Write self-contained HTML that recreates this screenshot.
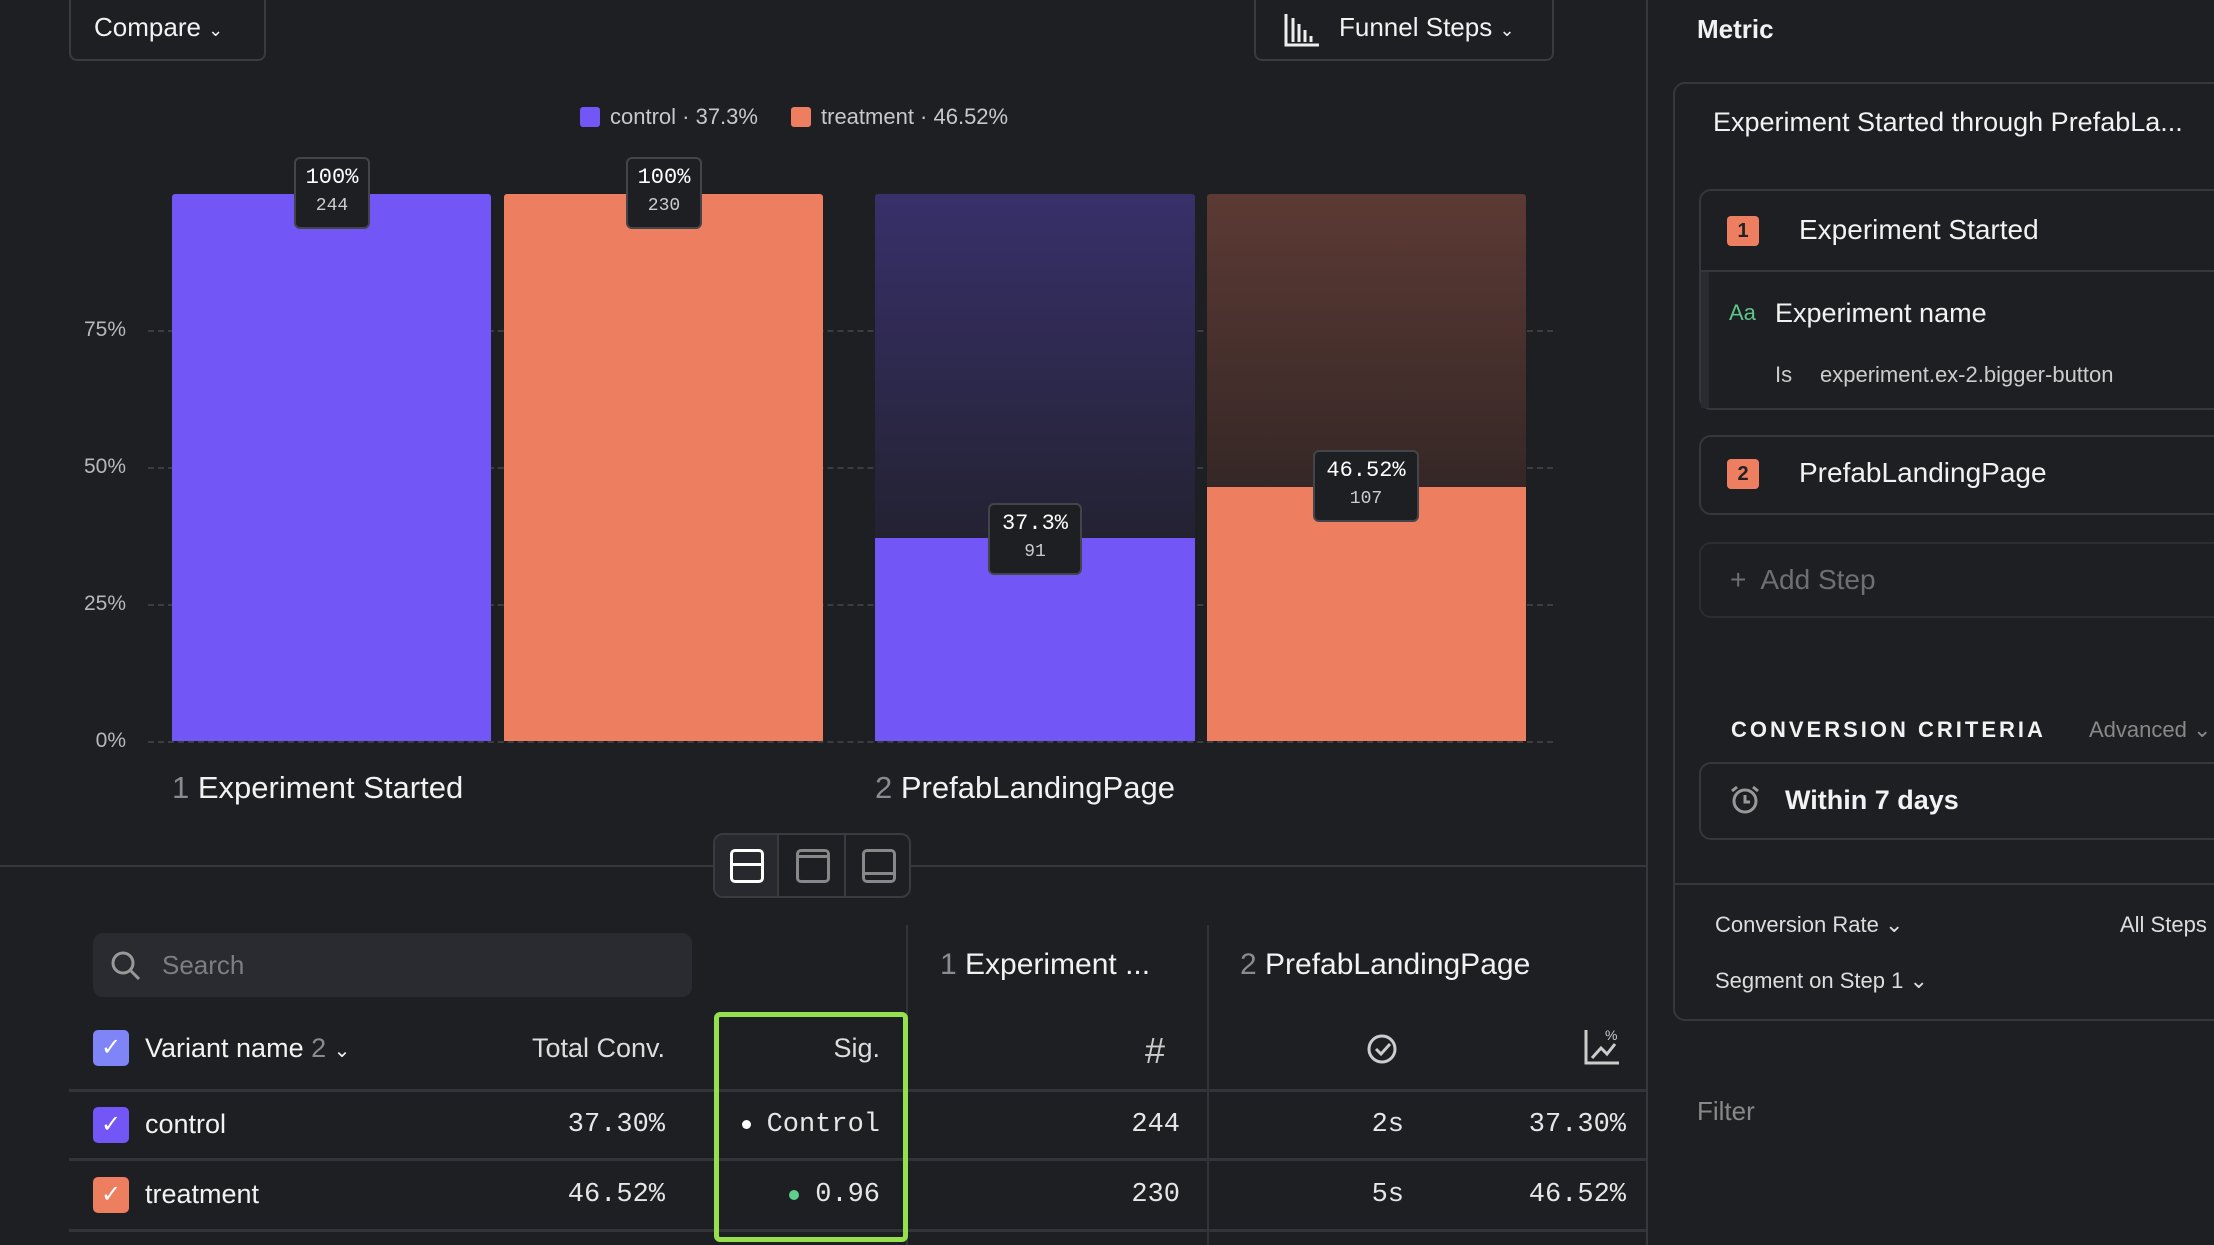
<!DOCTYPE html>
<html><head><meta charset="utf-8"><style>
*{box-sizing:border-box;margin:0;padding:0}
body{width:2214px;height:1245px;background:#1e1f23;overflow:hidden;position:relative;font-family:"Liberation Sans",sans-serif;color:#f2f2f2}
.a{position:absolute}
.mono{font-family:"Liberation Mono",monospace}
.btn{border:2px solid #3a3b40;border-radius:8px}
.grid{position:absolute;left:148px;width:1405px;border-top:2px dashed #3c3d42}
.yl{position:absolute;width:60px;left:66px;text-align:right;font-size:21px;color:#b8b8bc}
.tip{position:absolute;background:#1e1f23;border:2px solid #44454a;border-radius:6px;text-align:center;font-family:"Liberation Mono",monospace;color:#fff}
.tip b{display:block;font-weight:normal;font-size:22px;margin-top:6px}
.tip i{display:block;font-style:normal;font-size:18px;color:#ccc;margin-top:6px}
.cb{position:absolute;width:36px;height:36px;border-radius:5px;color:#fff;font-size:24px;text-align:center;line-height:36px}
.td{position:absolute;font-size:27px;font-family:"Liberation Mono",monospace;color:#e6e6e6}
.hl{position:absolute;left:69px;width:1577px;height:3px;background:#333439}
.card{position:absolute;border:2px solid #36373c;border-radius:12px}
</style></head><body>
<!-- top buttons -->
<div class="a btn" style="left:69px;top:-8px;width:197px;height:69px"></div>
<div class="a" style="left:94px;top:12px;font-size:26px">Compare <span style="font-size:18px">⌄</span></div>
<div class="a btn" style="left:1254px;top:-8px;width:300px;height:69px"></div>
<svg class="a" style="left:1283px;top:12px" width="38" height="36"><g stroke="#eee" stroke-width="3" fill="none"><path d="M3 2V33H36"/><path d="M10 6V30M16 12V30M22 18V30M28 24V30"/></g></svg>
<div class="a" style="left:1339px;top:12px;font-size:26px">Funnel Steps <span style="font-size:18px">⌄</span></div>
<!-- legend -->
<div class="a" style="left:580px;top:107px;width:20px;height:20px;background:#7357f6;border-radius:3px"></div>
<div class="a" style="left:610px;top:104px;font-size:22px;color:#c8c8cc">control · 37.3%</div>
<div class="a" style="left:791px;top:107px;width:20px;height:20px;background:#ee7e60;border-radius:3px"></div>
<div class="a" style="left:821px;top:104px;font-size:22px;color:#c8c8cc">treatment · 46.52%</div>
<!-- grid -->
<div class="grid" style="top:330px"></div><div class="grid" style="top:467px"></div><div class="grid" style="top:604px"></div><div class="grid" style="top:741px"></div>
<div class="yl" style="top:318px">75%</div><div class="yl" style="top:455px">50%</div><div class="yl" style="top:592px">25%</div><div class="yl" style="top:729px">0%</div>
<!-- bars -->
<div class="a" style="left:172px;top:194px;width:319px;height:547px;background:#7357f6;border-radius:3px 3px 0 0"></div>
<div class="a" style="left:504px;top:194px;width:319px;height:547px;background:#ee7e60;border-radius:3px 3px 0 0"></div>
<div class="a" style="left:875px;top:194px;width:320px;height:547px;background:linear-gradient(#38306a,#1f1f27 75%);border-radius:3px 3px 0 0"></div>
<div class="a" style="left:875px;top:538px;width:320px;height:203px;background:#7357f6"></div>
<div class="a" style="left:1207px;top:194px;width:319px;height:547px;background:linear-gradient(#5c3a34,#221e1f 80%);border-radius:3px 3px 0 0"></div>
<div class="a" style="left:1207px;top:487px;width:319px;height:254px;background:#ee7e60"></div>
<div class="tip" style="left:294px;top:157px;width:76px;height:72px"><b>100%</b><i>244</i></div>
<div class="tip" style="left:626px;top:157px;width:76px;height:72px"><b>100%</b><i>230</i></div>
<div class="tip" style="left:988px;top:503px;width:94px;height:72px"><b>37.3%</b><i>91</i></div>
<div class="tip" style="left:1313px;top:450px;width:106px;height:72px"><b>46.52%</b><i>107</i></div>
<div class="a" style="left:172px;top:770px;font-size:31px"><span style="color:#8a8a90">1</span> Experiment Started</div>
<div class="a" style="left:875px;top:770px;font-size:31px"><span style="color:#8a8a90">2</span> PrefabLandingPage</div>
<!-- divider -->
<div class="a" style="left:0;top:865px;width:1646px;height:2px;background:#36373c"></div>
<div class="a" style="left:1646px;top:0;width:2px;height:1245px;background:#36373c"></div>
<div class="a" style="left:713px;top:833px;width:198px;height:65px;background:#1e1f23;border:2px solid #3a3b40;border-radius:10px;overflow:hidden">
 <div class="a" style="left:0;top:0;width:64px;height:61px;background:#28292e;border-right:2px solid #3a3b40"></div>
 <div class="a" style="left:129px;top:0;width:2px;height:61px;background:#3a3b40"></div>
 <div class="a" style="left:15px;top:14px;width:34px;height:34px;border:3px solid #fff;border-radius:5px"><div style="margin-top:11px;border-top:3px solid #fff"></div></div>
 <div class="a" style="left:81px;top:14px;width:34px;height:34px;border:3px solid #888;border-radius:5px"><div style="margin-top:3px;border-top:3px solid #888"></div></div>
 <div class="a" style="left:147px;top:14px;width:34px;height:34px;border:3px solid #888;border-radius:5px"><div style="margin-top:20px;border-top:3px solid #888"></div></div>
</div>
<!-- table -->
<div class="a" style="left:93px;top:933px;width:599px;height:64px;background:#2a2b30;border-radius:10px"></div>
<svg class="a" style="left:110px;top:950px" width="32" height="32"><circle cx="13" cy="13" r="10" stroke="#999" stroke-width="3" fill="none"/><path d="M21 21L29 29" stroke="#999" stroke-width="3"/></svg>
<div class="a" style="left:162px;top:950px;font-size:26px;color:#7d7d82">Search</div>
<div class="a" style="left:906px;top:925px;width:2px;height:320px;background:#333439"></div>
<div class="a" style="left:1207px;top:925px;width:2px;height:320px;background:#333439"></div>
<div class="a" style="left:940px;top:948px;font-size:30px"><span style="color:#8a8a90">1</span> Experiment ...</div>
<div class="a" style="left:1240px;top:948px;font-size:30px"><span style="color:#8a8a90">2</span> PrefabLandingPage</div>
<div class="cb" style="left:93px;top:1030px;background:#7f84f6">✓</div>
<div class="a" style="left:145px;top:1033px;font-size:27px">Variant name <span style="color:#8a8a90">2</span> <span style="font-size:20px">⌄</span></div>
<div class="a" style="left:500px;top:1033px;width:165px;text-align:right;font-size:27px;color:#ddd">Total Conv.</div>
<div class="a" style="left:780px;top:1033px;width:100px;text-align:right;font-size:27px;color:#ddd">Sig.</div>
<div class="a" style="left:1145px;top:1030px;font-size:36px;color:#ccc">#</div>
<svg class="a" style="left:1365px;top:1030px" width="36" height="36"><circle cx="17" cy="19" r="13" stroke="#ccc" stroke-width="3" fill="none"/><path d="M11 19l5 5 9-10" stroke="#ccc" stroke-width="3" fill="none"/></svg>
<svg class="a" style="left:1583px;top:1028px" width="38" height="38"><path d="M3 2V35H36" stroke="#ccc" stroke-width="3" fill="none"/><path d="M9 30L18 20 24 26 32 16" stroke="#ccc" stroke-width="3" fill="none"/><text x="22" y="12" font-size="14" fill="#ccc" font-family="Liberation Sans">%</text></svg>
<div class="hl" style="top:1089px"></div><div class="hl" style="top:1158px"></div><div class="hl" style="top:1229px"></div>
<div class="cb" style="left:93px;top:1107px;background:#7357f6">✓</div>
<div class="a" style="left:145px;top:1109px;font-size:27px">control</div>
<div class="td" style="left:520px;top:1110px;width:145px;text-align:right">37.30%</div>
<div class="a" style="left:742px;top:1120px;width:9px;height:9px;border-radius:50%;background:#fff"></div>
<div class="td" style="left:760px;top:1110px;width:120px;text-align:right">Control</div>
<div class="td" style="left:1080px;top:1110px;width:100px;text-align:right">244</div>
<div class="td" style="left:1300px;top:1110px;width:104px;text-align:right">2s</div>
<div class="td" style="left:1500px;top:1110px;width:126px;text-align:right">37.30%</div>
<div class="cb" style="left:93px;top:1177px;background:#ee7e60">✓</div>
<div class="a" style="left:145px;top:1179px;font-size:27px">treatment</div>
<div class="td" style="left:520px;top:1180px;width:145px;text-align:right">46.52%</div>
<div class="a" style="left:789px;top:1190px;width:10px;height:10px;border-radius:50%;background:#5fd08a"></div>
<div class="td" style="left:780px;top:1180px;width:100px;text-align:right">0.96</div>
<div class="td" style="left:1080px;top:1180px;width:100px;text-align:right">230</div>
<div class="td" style="left:1300px;top:1180px;width:104px;text-align:right">5s</div>
<div class="td" style="left:1500px;top:1180px;width:126px;text-align:right">46.52%</div>
<div class="a" style="left:714px;top:1012px;width:194px;height:230px;border:5px solid #95e04f;border-radius:6px"></div>
<!-- right panel -->
<div class="a" style="left:1697px;top:14px;font-size:26px;font-weight:bold">Metric</div>
<div class="card" style="left:1673px;top:82px;width:600px;height:939px"></div>
<div class="a" style="left:1713px;top:107px;font-size:27px;white-space:nowrap">Experiment Started through PrefabLa...</div>
<div class="card" style="left:1699px;top:189px;width:600px;height:221px"></div>
<div class="a" style="left:1700px;top:270px;width:600px;height:2px;background:#36373c"></div>
<div class="a" style="left:1701px;top:272px;width:8px;height:136px;background:#2a2b30"></div>
<div class="a" style="left:1727px;top:216px;width:32px;height:30px;background:#ee7e60;border-radius:4px;text-align:center;font-size:20px;font-weight:bold;line-height:30px;color:#222">1</div>
<div class="a" style="left:1799px;top:214px;font-size:28px">Experiment Started</div>
<div class="a" style="left:1729px;top:300px;font-size:22px;color:#5fc48a">Aa</div>
<div class="a" style="left:1775px;top:298px;font-size:27px">Experiment name</div>
<div class="a" style="left:1775px;top:362px;font-size:22px;color:#ccc">Is</div>
<div class="a" style="left:1820px;top:362px;font-size:22px;color:#ccc">experiment.ex-2.bigger-button</div>
<div class="card" style="left:1699px;top:435px;width:600px;height:80px"></div>
<div class="a" style="left:1727px;top:459px;width:32px;height:30px;background:#ee7e60;border-radius:4px;text-align:center;font-size:20px;font-weight:bold;line-height:30px;color:#222">2</div>
<div class="a" style="left:1799px;top:457px;font-size:28px">PrefabLandingPage</div>
<div class="card" style="left:1699px;top:542px;width:600px;height:76px;border-color:#2c2d32"></div>
<div class="a" style="left:1730px;top:564px;font-size:28px;color:#6e6e73">+&nbsp; Add Step</div>
<div class="a" style="left:1731px;top:717px;font-size:22px;font-weight:bold;letter-spacing:3px">CONVERSION CRITERIA</div>
<div class="a" style="left:2089px;top:717px;font-size:22px;color:#888">Advanced ⌄</div>
<div class="card" style="left:1699px;top:762px;width:600px;height:78px"></div>
<svg class="a" style="left:1728px;top:783px" width="34" height="34"><circle cx="17" cy="18" r="11" stroke="#999" stroke-width="3" fill="none"/><path d="M17 12v7h5M4 8l5-4M30 8l-5-4" stroke="#999" stroke-width="3" fill="none"/></svg>
<div class="a" style="left:1785px;top:785px;font-size:27px;font-weight:bold">Within 7 days</div>
<div class="a" style="left:1674px;top:883px;width:560px;height:2px;background:#36373c"></div>
<div class="a" style="left:1715px;top:912px;font-size:22px;color:#ddd">Conversion Rate ⌄</div>
<div class="a" style="left:2120px;top:912px;font-size:22px;color:#ddd">All Steps</div>
<div class="a" style="left:1715px;top:968px;font-size:22px;color:#ddd">Segment on Step 1 ⌄</div>
<div class="a" style="left:1697px;top:1096px;font-size:26px;color:#888">Filter</div>
</body></html>
